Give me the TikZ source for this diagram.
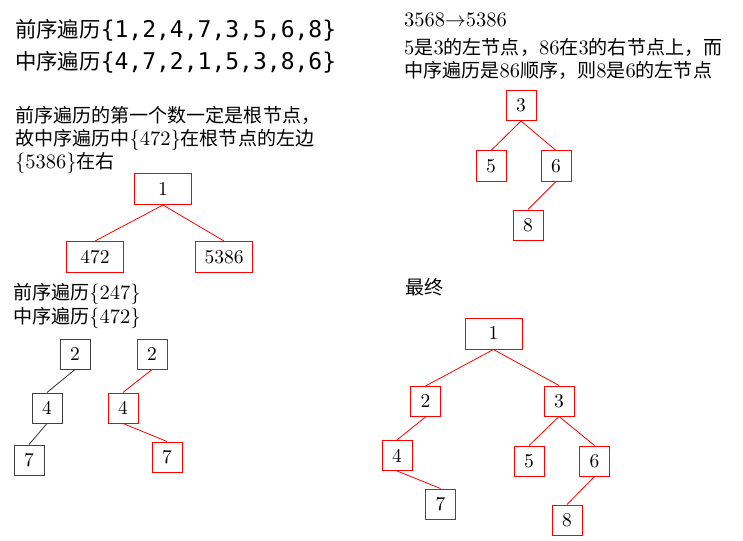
\documentclass[tikz,border=0pt]{standalone}
\usepackage{fontspec}
\setmainfont{lmroman10-regular.otf}
\newfontfamily\cjk[Scale=0.93]{Noto Sans CJK SC}
\newfontfamily\mono{DejaVu Sans Mono}
\begin{document}
\begin{tikzpicture}[x=1pt,y=-1pt,
  rbox/.style={draw=red, line width=1pt, minimum width=30pt, minimum height=30pt, inner sep=0pt, font=\fontsize{19.5}{19.5}\selectfont},
  wbox/.style={rbox, minimum width=57pt, minimum height=31pt},
  kbox/.style={rbox, draw=black!75},
  redge/.style={red, line width=0.8pt},
  kedge/.style={black!80, line width=0.8pt},
  txt/.style={anchor=west, inner sep=0pt, font=\fontsize{20.5}{20.5}\selectfont},
  big/.style={anchor=west, inner sep=0pt, font=\fontsize{23}{23}\selectfont}]
\useasboundingbox (0,0) rectangle (743,540);
\fill[white] (0,0) rectangle (743,540);
% texts
\node[big] (t1) at (15,30) {{\cjk 前序遍历}{\mono\{1,2,4,7,3,5,6,8\}}};
\node[big] (t2) at (15,62) {{\cjk 中序遍历}{\mono\{4,7,2,1,5,3,8,6\}}};
\node[txt] (t3) at (15,115) {{\cjk 前序遍历的第一个数一定是根节点，}};
\node[txt] (t4) at (15,140) {{\cjk 故中序遍历中}\{472\}{\cjk 在根节点的左边}};
\node[txt] (t5) at (15,163) {\{5386\}{\cjk 在右}};
\node[txt] (t6) at (13,294) {{\cjk 前序遍历}\{247\}};
\node[txt] (t7) at (13,318) {{\cjk 中序遍历}\{472\}};
\node[txt] (r1) at (404,20) {3568$\rightarrow$5386};
\node[txt] (r2) at (404,47) {5{\cjk 是}3{\cjk 的左节点，}86{\cjk 在}3{\cjk 的右节点上，而}};
\node[txt] (r3) at (404,70) {{\cjk 中序遍历是}86{\cjk 顺序，则}8{\cjk 是}6{\cjk 的左节点}};
\node[txt] (fl) at (405,287) {{\cjk 最终}};
% first split
\node[wbox] (A1) at (163,189) {1};
\node[wbox] (A472) at (95,257) {472};
\node[wbox] (A5386) at (224,257) {5386};
\draw[redge] (A1.south) -- (A472.north);
\draw[redge] (A1.south) -- (A5386.north);
% black tree
\node[kbox] (K2) at (75,354) {2};
\node[kbox] (K4) at (47,408) {4};
\node[kbox] (K7) at (29,460) {7};
\draw[kedge] (K2.south) -- (K4.north);
\draw[kedge] (K4.south) -- (K7.north);
% red tree
\node[rbox] (R2) at (152,354) {2};
\node[rbox] (R4) at (123,408) {4};
\node[rbox] (R7) at (167,457) {7};
\draw[redge] (R2.south) -- (R4.north);
\draw[redge] (R4.south) -- (R7.north);
% right subtree
\node[rbox] (B3) at (521,105.5) {3};
\node[rbox] (B5) at (491,166) {5};
\node[rbox] (B6) at (556,166) {6};
\node[rbox] (B8) at (528,225) {8};
\draw[redge] (B3.south) -- (B5.north);
\draw[redge] (B3.south) -- (B6.north);
\draw[redge] (B6.south) -- (B8.north);
% final tree
\node[wbox] (F1) at (493.5,333.5) {1};
\node[rbox] (F2) at (425.5,401.5) {2};
\node[rbox] (F3) at (559,401) {3};
\node[rbox] (F4) at (397,455.5) {4};
\node[rbox] (F7) at (440.5,504) {7};
\node[rbox] (F5) at (529,461) {5};
\node[rbox] (F6) at (594.5,461) {6};
\node[rbox] (F8) at (567,520) {8};
\draw[redge] (F1.south) -- (F2.north);
\draw[redge] (F1.south) -- (F3.north);
\draw[redge] (F2.south) -- (F4.north);
\draw[redge] (F4.south) -- (F7.north);
\draw[redge] (F3.south) -- (F5.north);
\draw[redge] (F3.south) -- (F6.north);
\draw[redge] (F6.south) -- (F8.north);
\end{tikzpicture}
\end{document}
